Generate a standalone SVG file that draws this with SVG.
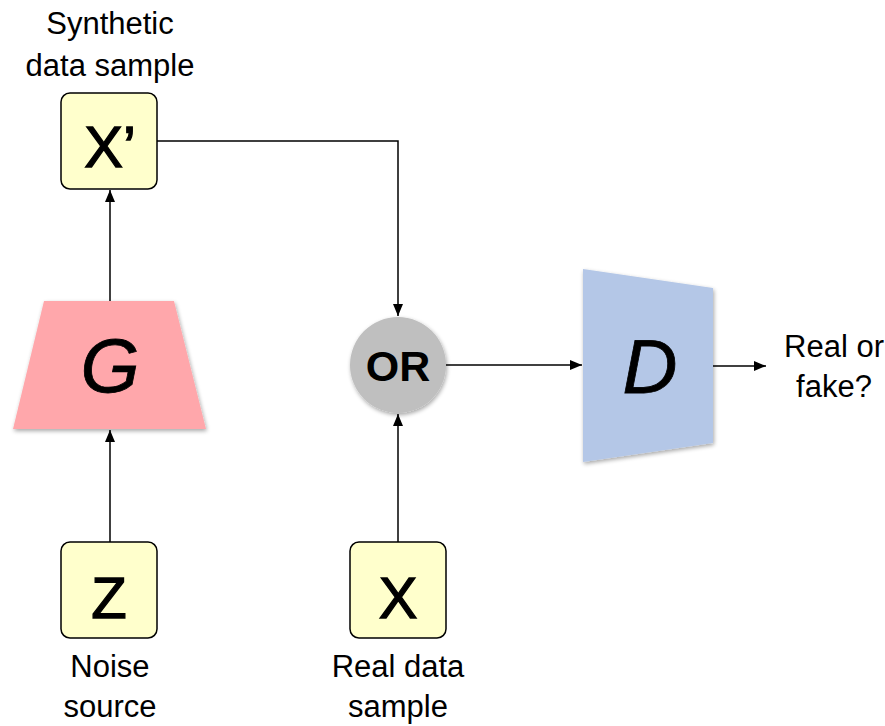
<svg xmlns="http://www.w3.org/2000/svg" width="885" height="726" viewBox="0 0 885 726">
<style>
text{font-family:"Liberation Sans",Arial,sans-serif;fill:#000;text-anchor:middle}
.lbl{font-size:31px}
.box{fill:#FFFFCC;stroke:#000;stroke-width:1.5}
.big{font-size:58px;stroke:#000;stroke-width:1.3}
.conn{stroke:#000;stroke-width:1.5;fill:none}
</style>
<defs>
<marker id="ah" viewBox="0 0 12 10" refX="12" refY="5" markerWidth="12" markerHeight="10" markerUnits="userSpaceOnUse" orient="auto">
<path d="M0,0 L12,5 L0,10 z" fill="#000"/>
</marker>
<filter id="sh" x="-20%" y="-20%" width="140%" height="140%">
<feGaussianBlur in="SourceAlpha" stdDeviation="2"/>
<feOffset dx="1" dy="2" result="b"/>
<feComponentTransfer><feFuncA type="linear" slope="0.35"/></feComponentTransfer>
<feMerge><feMergeNode/><feMergeNode in="SourceGraphic"/></feMerge>
</filter>
</defs>
<g id="connectors">
<path class="conn" d="M110,301 L110,190" marker-end="url(#ah)"/>
<path class="conn" d="M157,141 L398,141 L398,316" marker-end="url(#ah)"/>
<path class="conn" d="M110,542 L110,430" marker-end="url(#ah)"/>
<path class="conn" d="M398,542 L398,414" marker-end="url(#ah)"/>
<path class="conn" d="M446,365 L582,365" marker-end="url(#ah)"/>
<path class="conn" d="M713,366 L766,366" marker-end="url(#ah)"/>
</g>
<g id="xprime">
<text class="lbl" x="110" y="34">Synthetic</text>
<text class="lbl" x="110" y="76">data sample</text>
<rect class="box" x="61" y="93" width="96" height="96" rx="9"/>
<text class="big" x="110" y="167">X’</text>
</g>
<g id="G">
<polygon points="44,301 174,301 206,429 13,429" fill="#FFA7AB" filter="url(#sh)"/>
<text x="110" y="392" font-size="76" font-style="italic" stroke="#000" stroke-width="0.8">G</text>
</g>
<g id="OR">
<circle cx="398" cy="365" r="48" fill="#BFBFBF" filter="url(#sh)"/>
<text x="398" y="381" font-size="43" font-weight="bold">OR</text>
</g>
<g id="D">
<polygon points="583,269 713,288 713,443 583,462" fill="#B4C7E7" filter="url(#sh)"/>
<text x="650" y="393" font-size="76" font-style="italic" stroke="#000" stroke-width="0.8">D</text>
</g>
<g id="output">
<text class="lbl" x="834" y="357">Real or</text>
<text class="lbl" x="834" y="397">fake?</text>
</g>
<g id="z">
<rect class="box" x="61" y="542" width="96" height="96" rx="9"/>
<text class="big" x="109" y="618">Z</text>
<text class="lbl" x="110" y="677">Noise</text>
<text class="lbl" x="110" y="717">source</text>
</g>
<g id="x">
<rect class="box" x="350" y="542" width="96" height="96" rx="9"/>
<text class="big" x="398" y="618">X</text>
<text class="lbl" x="398" y="677">Real data</text>
<text class="lbl" x="398" y="717">sample</text>
</g>
</svg>
